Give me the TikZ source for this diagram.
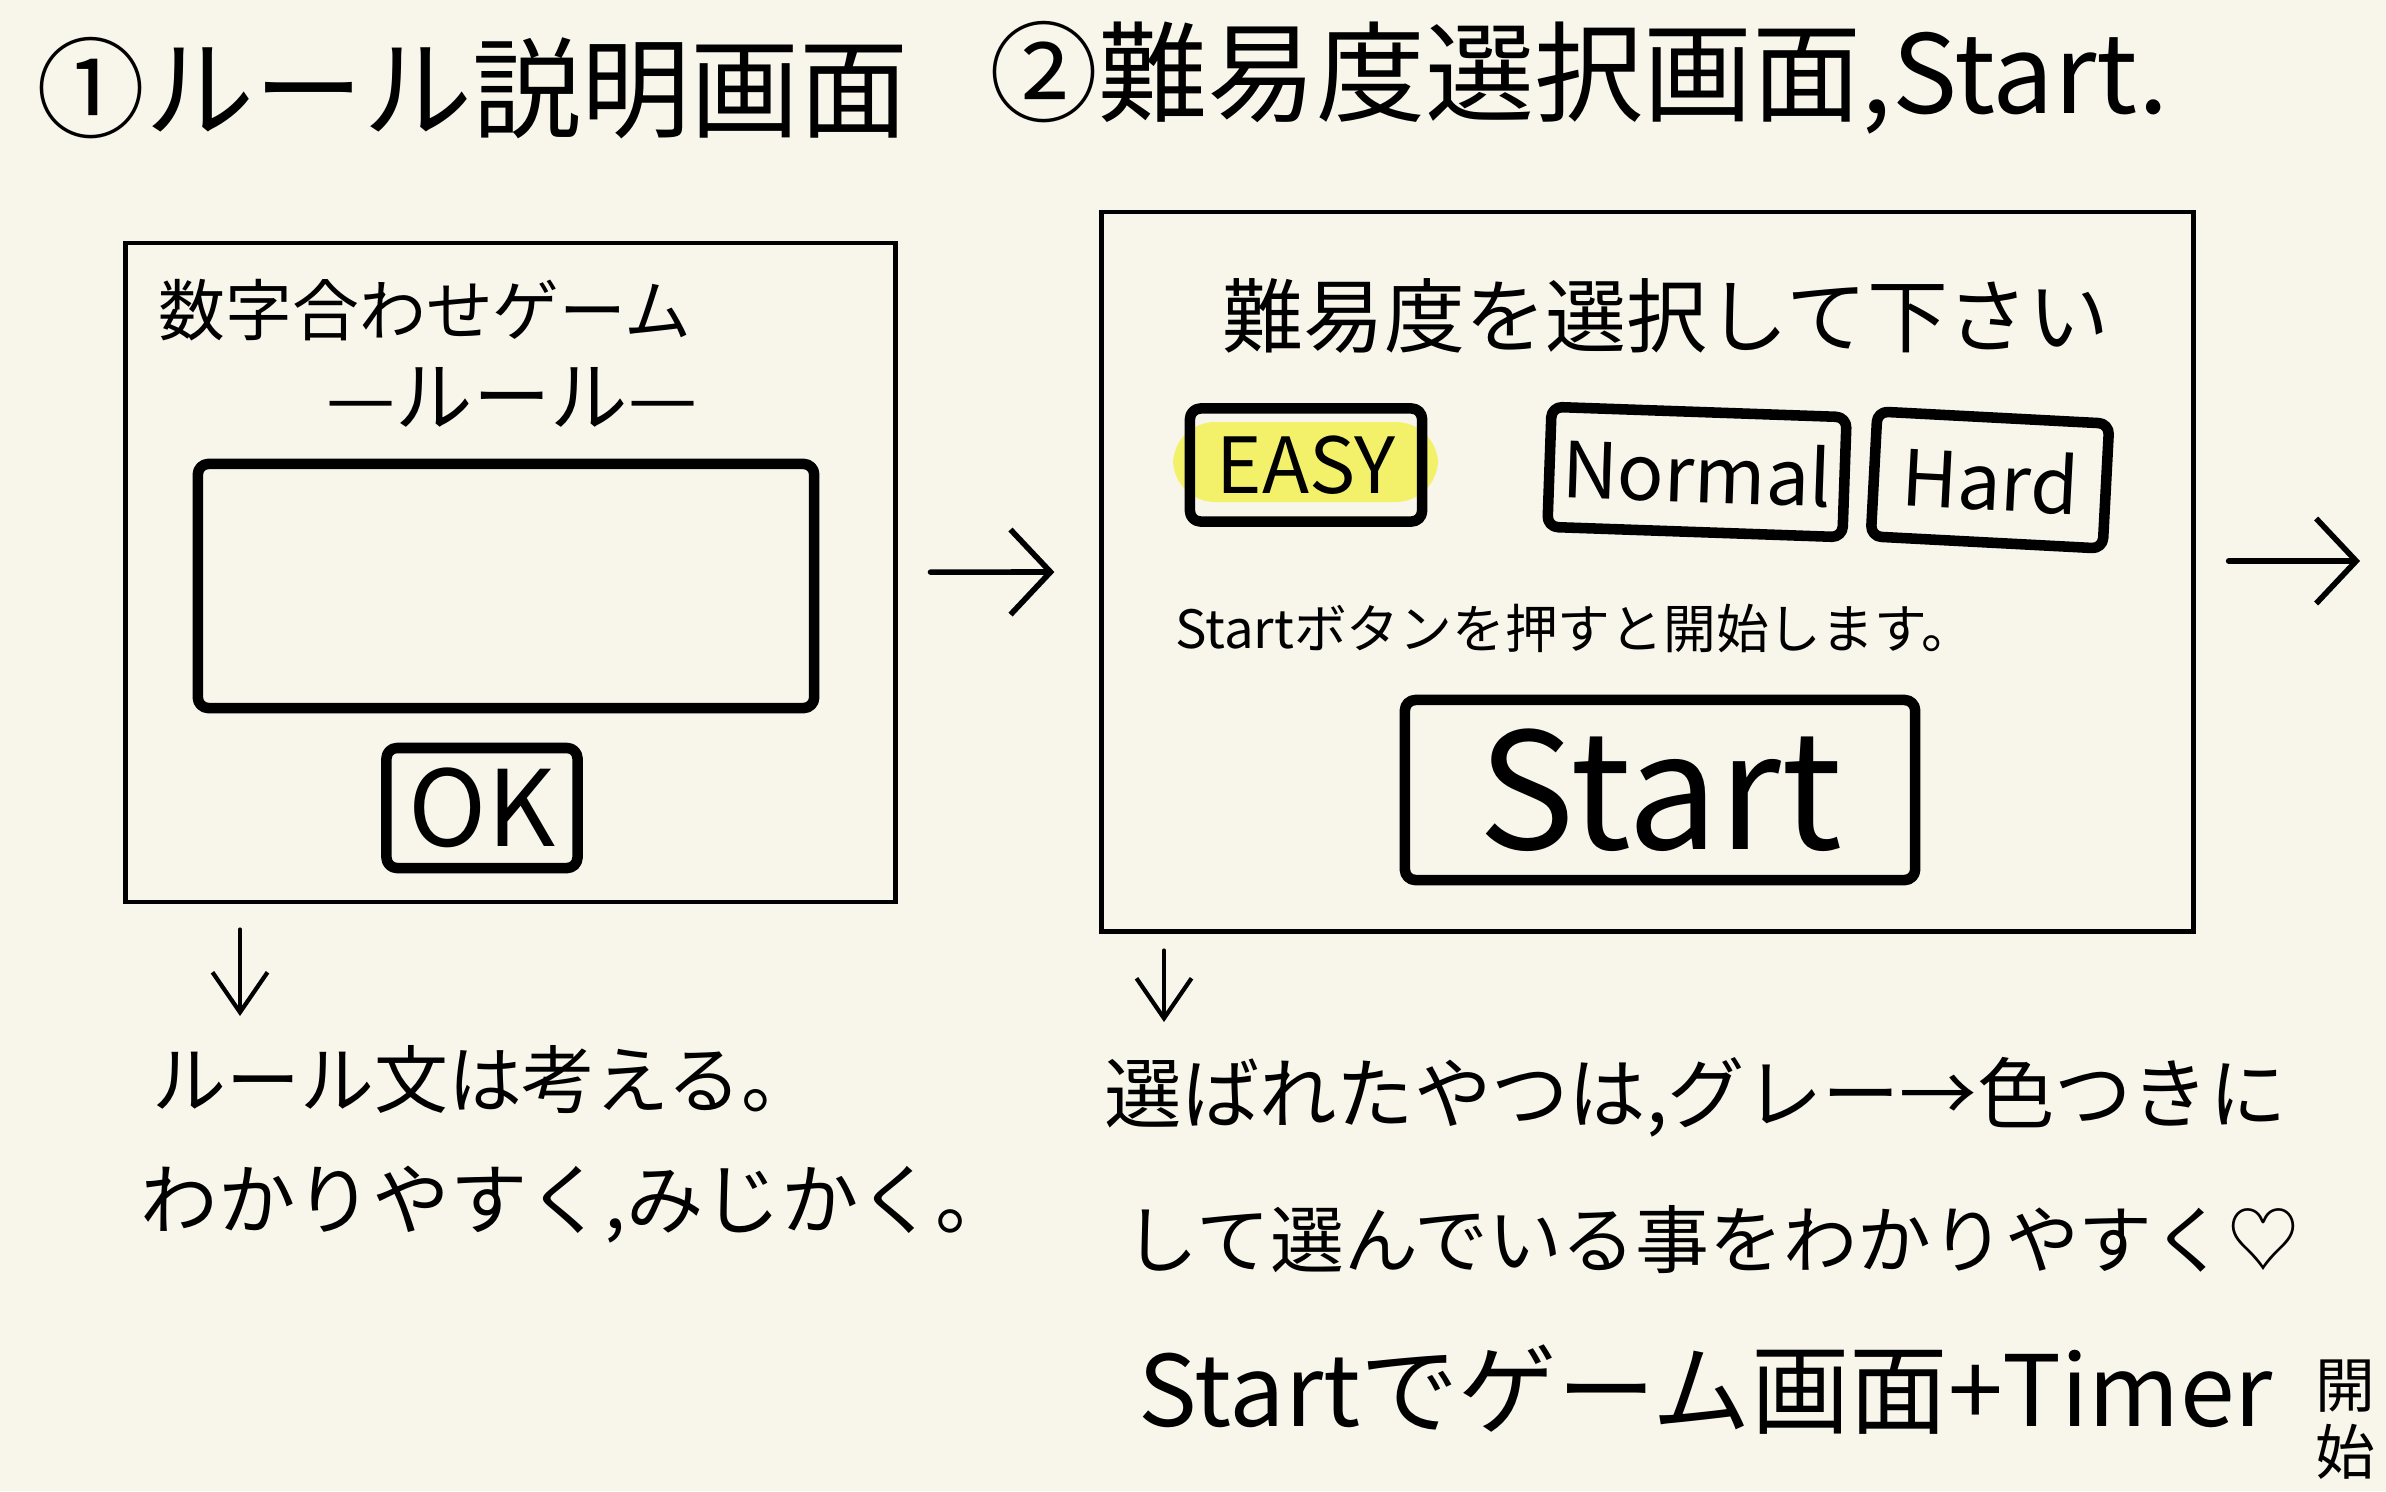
\documentclass[tikz,border=0pt]{standalone}
\usepackage{fontspec}
\setmainfont{Noto Sans CJK JP}
\usetikzlibrary{positioning,arrows.meta,calc}

\definecolor{paper}{HTML}{F8F6EA}
\definecolor{marker}{HTML}{F3F06A}

\tikzset{
  screen/.style={draw, line width=1.3pt, inner sep=0pt},
  hbox/.style={draw, line width=3pt, rounded corners=3pt, line join=round, inner sep=0pt},
  note/.style={anchor=west, inner sep=0pt},
  flow/.style={line width=1.6pt, line cap=round, -{Straight Barb[length=4mm,width=8.5mm]}},
  down/.style={line width=1.2pt, line cap=round, -{Straight Barb[length=4mm,width=5.5mm]}},
}

\begin{document}
\begin{tikzpicture}[x=0.01cm, y=-0.01cm]

% ===== paper =====
\fill[paper] (0,0) rectangle (2386,1491);
\useasboundingbox (0,0) rectangle (2386,1491);

% ===== titles =====
\node[note, font=\fontsize{31}{36}\selectfont] (titleA) at (36,88) {①ルール説明画面};
\node[note, font=\fontsize{31}{36}\selectfont] (titleB) at (989,78) {②難易度選択画面,Start.};

% ===== screen 1: rules =====
\node[screen, minimum width=7.69cm, minimum height=6.59cm] (scrA) at (510.5,572.5) {};
\node[font=\fontsize{19}{23}\selectfont] (gameName) at (425,310) {数字合わせゲーム};
\node[font=\fontsize{22}{26}\selectfont] (ruleHead) at (512,397) {—ルール—};
\node[hbox, minimum width=6.16cm, minimum height=2.44cm] (ruleText) at (506,586) {};
\node[hbox, minimum width=1.91cm, minimum height=1.2cm, font=\fontsize{30}{36}\selectfont] (okBtn) at (482,808) {OK};

% ===== screen 2: level select =====
\node[screen, minimum width=10.91cm, minimum height=7.19cm] (scrB) at (1647.5,571.5) {};
\node[font=\fontsize{23}{28}\selectfont] (levelHead) at (1666,316) {難易度を選択して下さい};
\coordinate (easyPos) at (1306,465);
\fill[marker, rounded corners=12pt] ($(easyPos)+(-133,-43)$) rectangle ($(easyPos)+(132,37)$);
\node[hbox, minimum width=2.32cm, minimum height=1.13cm, font=\fontsize{22}{26}\selectfont] (easyBtn) at (easyPos) {EASY};
\node[hbox, minimum width=2.95cm, minimum height=1.2cm, rotate=-2, font=\fontsize{22}{26}\selectfont] (normalBtn) at (1697,472) {Normal};
\node[hbox, minimum width=2.32cm, minimum height=1.25cm, rotate=-3, font=\fontsize{22}{26}\selectfont] (hardBtn) at (1990,480) {Hard};
\node[font=\fontsize{15}{18}\selectfont] (startHint) at (1575,628) {Startボタンを押すと開始します。};
\node[hbox, minimum width=5.1cm, minimum height=1.8cm, font=\fontsize{46}{50}\selectfont] (startBtn) at (1660,790) {Start};

% ===== connectors =====
\draw[flow, shorten <=0.33cm, shorten >=0.45cm] (scrA) -- (scrB);
\coordinate (nextScr) at (2360,561);
\draw[flow, shorten <=0.33cm] (scrB.east |- nextScr) -- (nextScr);

\coordinate (noteAtip) at (240,1016);
\coordinate (noteBtip) at (1164,1022);
\draw[down, shorten <=0.25cm] (scrA.south -| noteAtip) -- (noteAtip);
\draw[down, shorten <=0.17cm] (scrB.south -| noteBtip) -- (noteBtip);

% ===== notes =====
\node[note, font=\fontsize{21}{25}\selectfont] (noteA1) at (152,1080) {ルール文は考える。};
\node[note, font=\fontsize{22}{26}\selectfont] (noteA2) at (140,1205) {わかりやすく,みじかく。};
\node[note, font=\fontsize{22}{26}\selectfont] (noteB1) at (1104,1097) {選ばれたやつは,グレー→色つきに};
\node[note, font=\fontsize{21}{25}\selectfont] (noteB2) at (1124,1240) {して選んでいる事をわかりやすく♡};
\node[note, font=\fontsize{28}{32}\selectfont] (noteB3) at (1138,1390) {Startでゲーム画面+Timer};
\node[font=\fontsize{17}{19}\selectfont, align=center, inner sep=0pt] (noteB3end) at (2345,1420) {開\\始};

\end{tikzpicture}
\end{document}
